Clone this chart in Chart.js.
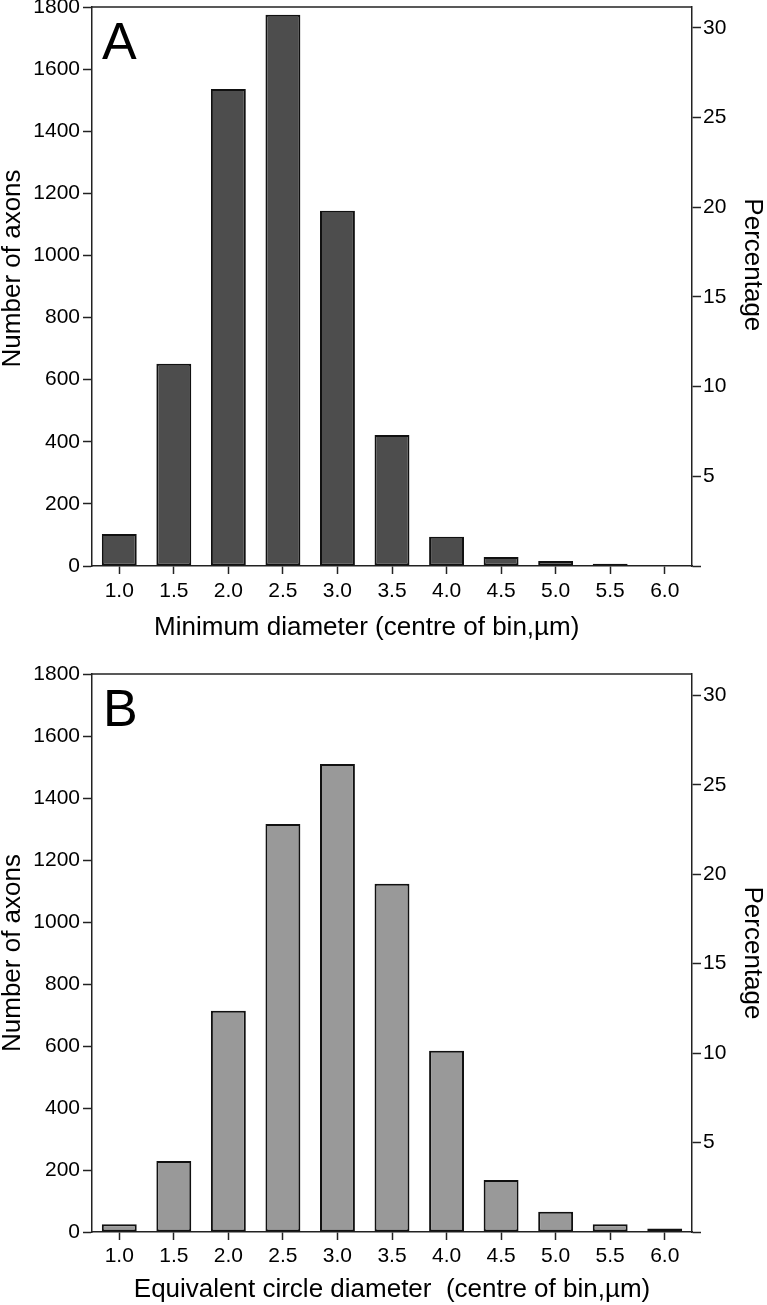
<!DOCTYPE html>
<html>
<head>
<meta charset="utf-8">
<script src="https://cdn.jsdelivr.net/npm/chart.js@4.4.1/dist/chart.umd.min.js"></script>
<style>
  body { margin: 0; background: #fff; }
  .panel { position: relative; width: 767px; }
  canvas { display: block; }
</style>
</head>
<body>
<div class="panel"><canvas id="minChart" width="767" height="645"></canvas></div>
<div class="panel"><canvas id="ecdChart" width="767" height="660"></canvas></div>
<script>
const binLabels = ['1.0', '1.5', '2.0', '2.5', '3.0', '3.5', '4.0', '4.5', '5.0', '5.5', '6.0'];
const minDiameterCounts = [103, 651, 1536, 1775, 1144, 422, 94, 29, 16, 7, 0];
const ecdCounts = [25, 229, 714, 1316, 1510, 1123, 585, 168, 65, 25, 11];
const countMax = 1800;
const countStep = 200;
const percentStep = 5;

Chart.defaults.font.family = "'Liberation Sans', Arial, sans-serif";
Chart.defaults.color = '#000';

// top frame line + panel letter
const framePlugin = {
  id: 'frame',
  afterDraw(chart, args, opts) {
    const { ctx, chartArea } = chart;
    ctx.save();
    ctx.strokeStyle = '#222';
    ctx.lineWidth = 1.5;
    ctx.beginPath();
    ctx.moveTo(chartArea.left, chartArea.top);
    ctx.lineTo(chartArea.right, chartArea.top);
    ctx.stroke();
    ctx.fillStyle = '#000';
    ctx.font = "52px 'Liberation Sans', Arial, sans-serif";
    ctx.textBaseline = 'alphabetic';
    ctx.fillText(opts.letter, chartArea.left + opts.dx, chartArea.top + 52);
    ctx.restore();
  }
};

// titles: the spaces nudge the text off-centre like in panel A
function makeChart(id, counts, fill, letter, dx, titles, top, xHeight, labelPad, titlePad) {
  const total = counts.reduce((a, b) => a + b, 0);
  const percentMax = countMax / total * 100;
  return new Chart(document.getElementById(id), {
    type: 'bar',
    data: {
      labels: binLabels,
      datasets: [{
        label: 'Number of axons',
        data: counts,
        backgroundColor: fill,
        borderColor: '#111',
        borderWidth: 2,
        borderSkipped: false,
        barPercentage: 0.64,
        categoryPercentage: 1,
        yAxisID: 'y'
      }]
    },
    options: {
      responsive: false,
      animation: false,
      layout: { padding: { top: top, left: 0, right: 0, bottom: 0 } },
      plugins: {
        legend: { display: false },
        tooltip: { enabled: false },
        frame: { letter: letter, dx: dx }
      },
      scales: {
        x: {
          offset: true,
          grid: { display: true, drawOnChartArea: false, offset: false, tickLength: 8, tickColor: '#222', tickWidth: 1.5 },
          border: { display: true, color: '#222', width: 1.5 },
          ticks: { font: { size: 21 }, padding: labelPad, maxRotation: 0 },
          title: { display: true, text: titles[0], font: { size: 26, lineHeight: 1 }, padding: { top: 0, bottom: titlePad } },
          afterFit(scale) { scale.height = xHeight; scale.paddingLeft = 0; scale.paddingRight = 0; }
        },
        y: {
          position: 'left',
          min: 0,
          max: countMax,
          grid: { display: true, drawOnChartArea: false, tickLength: 9, tickColor: '#222', tickWidth: 1.5 },
          border: { display: true, color: '#222', width: 1.5 },
          ticks: { stepSize: countStep, font: { size: 21 }, padding: 3, callback: v => String(v) },
          title: { display: true, text: titles[1], font: { size: 26, lineHeight: 1 }, padding: 0 },
          afterFit(scale) { scale.width = 92; scale.paddingTop = 0; scale.paddingBottom = 0; }
        },
        y1: {
          position: 'right',
          min: 0,
          max: percentMax,
          grid: { display: true, drawOnChartArea: false, tickLength: 9, tickColor: '#222', tickWidth: 1.5 },
          border: { display: true, color: '#222', width: 1.5 },
          ticks: {
            stepSize: percentStep,
            includeBounds: false,
            font: { size: 21 },
            padding: 2,
            callback: v => (v === 0 ? '' : String(v))
          },
          title: { display: true, text: titles[2], font: { size: 26, lineHeight: 1 }, padding: { top: 2, bottom: 0 } },
          afterFit(scale) { scale.width = 75; scale.paddingTop = 0; scale.paddingBottom = 0; }
        }
      }
    },
    plugins: [framePlugin]
  });
}

makeChart('minChart', minDiameterCounts, '#4d4d4d', 'A', 10,
  ['Minimum diameter (centre of bin,\u00b5m)       ', '     Number of axons', 'Percentage      '],
  7, 79, 5, 4);
makeChart('ecdChart', ecdCounts, '#999999', 'B', 11,
  ['Equivalent circle diameter  (centre of bin,\u00b5m)', 'Number of axons', 'Percentage'],
  29, 73, 4, 2);
</script>
</body>
</html>
